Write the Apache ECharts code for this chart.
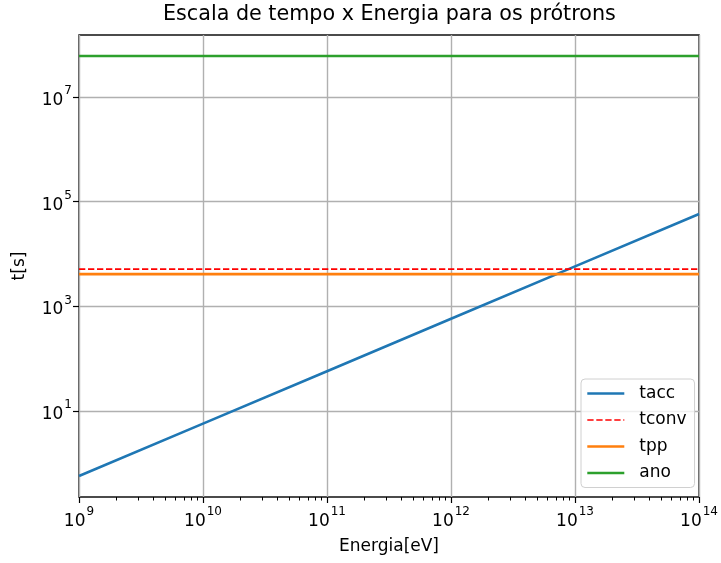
<!DOCTYPE html>
<html>
<head>
<meta charset="utf-8">
<script src="https://cdn.jsdelivr.net/npm/echarts@6/dist/echarts.min.js"></script>
<style>
  html, body { margin: 0; padding: 0; background: #fff; }
  #chart { width: 721px; height: 563px; }
</style>
</head>
<body>
<div id="chart"></div>
<script>
// Energies (eV) and time scales (s) for protons
const energy = [1e9, 1e10, 1e11, 1e12, 1e13, 1e14];
const tacc   = [0.58, 5.8, 58, 580, 5800, 58000];
const tconv  = [5140, 5140, 5140, 5140, 5140, 5140];
const tpp    = [4130, 4130, 4130, 4130, 4130, 4130];
const ano    = [6.0e7, 6.0e7, 6.0e7, 6.0e7, 6.0e7, 6.0e7];

const seriesNames = ['tacc', 'tconv', 'tpp', 'ano'];
const seriesData = [tacc, tconv, tpp, ano];

// Axis ticks (decade exponents)
const xDecades = [9, 10, 11, 12, 13, 14];
const yDecades = [1, 3, 5, 7];
const minorMultipliers = [2, 3, 4, 5, 6, 7, 8, 9];

const FONT = 'DejaVu Sans';
const lg = Math.log10;

// log-space coordinates on linear value axes
const toPoints = ys => energy.map((e, i) => [lg(e), lg(ys[i])]);

// y range: data extent padded by 5% in log space
const allY = seriesData.flat().map(lg);
const yLo = Math.min(...allY), yHi = Math.max(...allY);
const pad = (yHi - yLo) * 0.05;
const yMin = yLo - pad, yMax = yHi + pad;

const xMinor = [];
xDecades.slice(0, -1).forEach(d => minorMultipliers.forEach(m => xMinor.push(d + lg(m))));

const powLabel = v => '{b|10}{s|' + Math.round(v) + '}';
const richPow = {
  b: { fontFamily: FONT, fontSize: 17, color: '#000', lineHeight: 24, verticalAlign: 'bottom' },
  s: { fontFamily: FONT, fontSize: 12, color: '#000', lineHeight: 24, verticalAlign: 'top', padding: [0, 0, 0, 1] }
};

const styles = [
  { color: '#1f77b4', width: 2.6, type: 'solid' },
  { color: '#ff0000', width: 1.7, type: [6.3, 2.7] },
  { color: '#ff7f0e', width: 2.6, type: 'solid' },
  { color: '#2ca02c', width: 2.6, type: 'solid' }
];

const chart = echarts.init(document.getElementById('chart'), null, { renderer: 'canvas' });
chart.setOption({
  animation: false,
  backgroundColor: '#fff',
  textStyle: { fontFamily: FONT },
  title: {
    text: 'Escala de tempo x Energia para os prótrons',
    left: 163,
    top: 4,
    padding: 0,
    textStyle: { fontFamily: FONT, fontSize: 20.7, fontWeight: 'normal', color: '#000' }
  },
  grid: {
    left: 79, right: 21, top: 35, bottom: 66,
    show: true, borderColor: '#111', borderWidth: 1.4, backgroundColor: 'transparent'
  },
  legend: {
    orient: 'vertical',
    left: 581, top: 379,
    padding: [6, 8, 6, 5],
    itemWidth: 37, itemHeight: 17, itemGap: 9.5,
    backgroundColor: 'rgba(255,255,255,0.8)',
    borderColor: '#d0d0d0', borderWidth: 1, borderRadius: 4,
    itemStyle: { opacity: 0 },
    lineStyle: { width: 'inherit' },
    textStyle: { fontFamily: FONT, fontSize: 17, color: '#000', lineHeight: 17, padding: [0, 0, 0, 10] },
    data: seriesNames
  },
  xAxis: [
    {
      type: 'value', min: 9, max: 14, interval: 1,
      name: 'Energia[eV]', nameLocation: 'middle', nameGap: 41,
      nameTextStyle: { fontFamily: FONT, fontSize: 17, color: '#000' },
      axisLine: { show: false, onZero: false },
      axisTick: { show: true, length: 6, lineStyle: { color: '#000', width: 1.2 } },
      axisLabel: { margin: 9, formatter: powLabel, rich: richPow },
      splitLine: { show: true, lineStyle: { color: '#b0b0b0', width: 1.4 } }
    },
    {
      type: 'value', min: 9, max: 14, position: 'bottom',
      axisLine: { show: false, onZero: false },
      axisTick: { show: true, length: 3.5, customValues: xMinor, lineStyle: { color: '#000', width: 1 } },
      axisLabel: { show: false },
      splitLine: { show: false }
    }
  ],
  yAxis: {
    type: 'value', min: yMin, max: yMax,
    name: 't[s]', nameLocation: 'middle', nameGap: 51, nameRotate: 90,
    nameTextStyle: { fontFamily: FONT, fontSize: 17, color: '#000' },
    axisLine: { show: false, onZero: false },
    axisTick: { show: true, length: 6, customValues: yDecades, lineStyle: { color: '#000', width: 1.2 } },
    axisLabel: { margin: 7, customValues: yDecades, formatter: powLabel, rich: richPow },
    splitLine: { show: true, lineStyle: { color: '#b0b0b0', width: 1.4 } }
  },
  series: seriesNames.map((name, i) => ({
    name,
    type: 'line',
    xAxisIndex: 0,
    data: toPoints(seriesData[i]),
    showSymbol: false,
    symbol: 'none',
    lineStyle: styles[i],
    itemStyle: { color: styles[i].color },
    emphasis: { disabled: true }
  }))
});
</script>
</body>
</html>
